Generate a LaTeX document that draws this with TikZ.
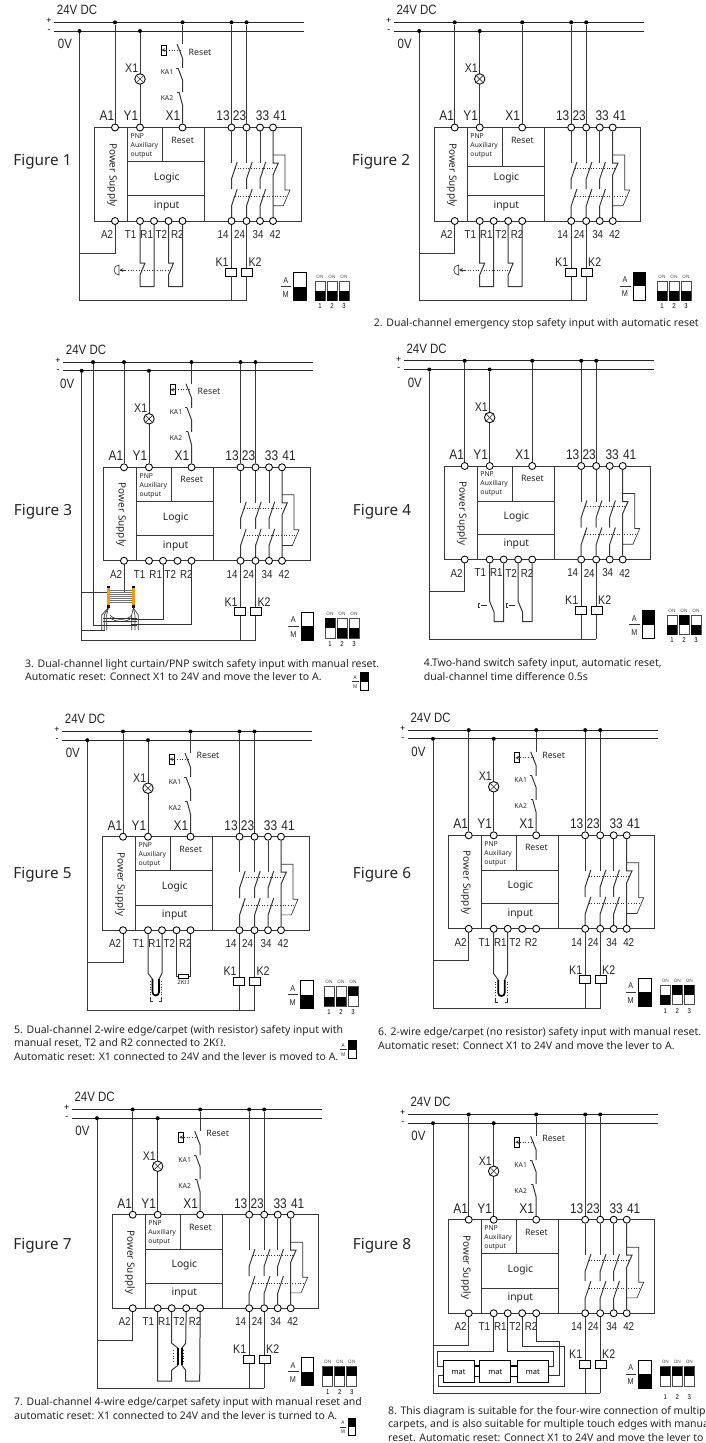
\documentclass[tikz,border=0pt]{standalone}
\usepackage{fontspec}
\usepackage{tikz}
\usetikzlibrary{arrows}
\setmainfont{Noto Sans}
\newfontfamily\dinfont[FakeStretch=0.85]{Liberation Sans}
\tikzset{
  wire/.style={line width=1pt,color=black!78},
  fine/.style={line width=0.65pt,color=black!80},
  bus/.style={line width=1pt,color=black!85},
  dots/.style={line width=0.65pt,dotted,color=black!80},
  term/.style={circle,draw=black,line width=0.85pt,fill=white,minimum size=7pt,inner sep=0pt},
  jdot/.style={circle,fill=black,minimum size=4pt,inner sep=0pt},
  pin/.style={font=\dinfont\fontsize{14}{14}\selectfont,inner sep=0pt,color=black!85},
  pinlow/.style={font=\dinfont\fontsize{11.5}{12}\selectfont,inner sep=0pt,color=black!85},
  tag/.style={font=\dinfont\fontsize{12.5}{13}\selectfont,inner sep=0pt,color=black!85},
  inner/.style={font=\fontsize{10.3}{11}\selectfont,inner sep=0pt,color=black!85},
  tiny/.style={font=\fontsize{6.8}{7}\selectfont,inner sep=0pt,color=black!85},
  figlabel/.style={font=\fontsize{15.3}{16}\selectfont,inner sep=0pt,color=black!85},
  capt/.style={font=\fontsize{10.5}{13.8}\selectfont,align=left,anchor=west,inner sep=0pt,color=black!85},
  coil/.style={draw,line width=0.85pt,fill=white,minimum width=11pt,minimum height=8pt,inner sep=0pt},
  lampnode/.style={circle,draw,line width=0.85pt,minimum size=10.5pt,inner sep=0pt},
  mat/.style={draw,line width=0.85pt,minimum width=31pt,minimum height=22pt,inner sep=0pt,font=\fontsize{7.5}{8}\selectfont},
}
% module, rails, load side: #1 bottom of PNP cell, #2 x of the 0V wire
\newcommand{\relaycore}[2]{
  \coordinate (pL) at (54,22.3);
  \coordinate (pR) at (304,22.3);
  \coordinate (nL) at (54,31);
  \coordinate (nR) at (304,31);
  \draw[bus] (pL) -- (pR);
  \draw[bus] (nL) -- (nR);
  \node[font=\bfseries\fontsize{9}{9}\selectfont,inner sep=0pt] (plus) at (49,21) {+};
  \node[font=\bfseries\fontsize{9}{9}\selectfont,inner sep=0pt] (minus) at (49,31) {-};
  \node[tag,font=\dinfont\fontsize{13.5}{14}\selectfont] (dc) at (77,10) {24V DC};
  \node[tag,font=\dinfont\fontsize{13.5}{14}\selectfont] (zv) at (#2-14.5,44) {0V};
  \draw[wire] (94.5,127.5) rectangle (301,221);
  \draw[wire] (127.5,127.5) -- (127.5,221);
  \draw[wire] (204.5,127.5) -- (204.5,221);
  \draw[wire] (162.5,127.5) -- (162.5,#1);
  \draw[wire] (127.5,#1) -- (204.5,#1);
  \draw[wire] (127.5,195.8) -- (204.5,195.8);
  \node[inner,font=\fontsize{10}{11}\selectfont,rotate=-90] (ps) at (112.3,175) {Power Supply};
  \node[tiny,anchor=west] (pnpa) at (130.5,136) {PNP};
  \node[tiny,anchor=west] (pnpb) at (130.5,145.7) {Auxiliary};
  \node[tiny,anchor=west] (pnpc) at (130.5,155) {output};
  \node[inner,font=\fontsize{8.8}{9}\selectfont] (rs) at (182.7,140) {Reset};
  \node[inner] (lg) at (166.7,178) {Logic};
  \node[inner] (ip) at (166.7,205.7) {input};
  \foreach \nm/\px in {A1/115,Y1/140,X1/182.5,t13/231.5,t23/246.5,t33/260,t41/273}
    \node[term] (\nm) at (\px,127.5) {};
  \foreach \nm/\px in {A2/115,T1/140,R1/154,T2/168.5,R2/182.5,t14/231.5,t24/246.5,t34/260,t42/273}
    \node[term] (\nm) at (\px,221) {};
  \foreach \nm/\px in {A1/107,Y1/131,X1/173,13/223,23/239.5,33/262.5,41/280}
    \node[pin] (lb\nm) at (\px,116) {\nm};
  \foreach \nm/\px in {A2/107,T1/130.7,R1/146.7,T2/161.3,R2/177.3,14/223,24/239.5,34/258,42/275}
    \node[pinlow] (lb\nm) at (\px,234.5) {\nm};
  \node[jdot] (jA1) at (115,22.3) {};
  \node[jdot] (jX1) at (182.5,22.3) {};
  \node[jdot] (j13) at (231.5,22.3) {};
  \node[jdot] (j23) at (246.5,22.3) {};
  \node[jdot] (jY1) at (140,31) {};
  \node[jdot] (j0V) at (#2,31) {};
  \draw[wire] (jA1) -- (A1);
  \draw[wire] (jY1) -- (Y1);
  \node[lampnode,fill=white] (lamp) at (140,79) {};
  \draw[fine] (lamp.45) -- (lamp.225);
  \draw[fine] (lamp.135) -- (lamp.315);
  \node[tag] (lbLamp) at (131.7,68.5) {X1};
  \draw[wire] (j13) -- (t13);
  \draw[wire] (j23) -- (t23);
  % contacts
  \foreach \cn/\bn/\cx in {t13/t14/231.5,t23/t24/246.5,t33/t34/260}{
    \coordinate (ca) at (\cx,163);
    \coordinate (cb) at (\cx,179);
    \coordinate (cc) at (\cx+5.7,162);
    \coordinate (cd) at (\cx,189);
    \coordinate (ce) at (\cx,206);
    \coordinate (cf) at (\cx+5.7,189);
    \draw[wire] (\cn) -- (ca);
    \draw[wire] (cc) -- (cb) -- (cd);
    \draw[wire] (cf) -- (ce) -- (\bn);
  }
  \coordinate (ng) at (273,163);
  \coordinate (nh) at (278.3,163);
  \coordinate (ni) at (273,175);
  \draw[wire] (t41) -- (ng) -- (nh) -- (ni) -- (t42);
  \coordinate (fa) at (273,155);
  \coordinate (fb) at (285,155);
  \coordinate (fc) at (285,190);
  \coordinate (fd) at (290,190);
  \coordinate (fe) at (283.3,205.7);
  \coordinate (ff) at (273,205.7);
  \draw[fine] (fa) -- (fb) -- (fc) -- (fd) -- (fe) -- (ff);
  \coordinate (da) at (235,168.3);
  \coordinate (db) at (276,168.3);
  \coordinate (dc1) at (235,196);
  \coordinate (dd) at (287,196);
  \draw[dots] (da) -- (db);
  \draw[dots] (dc1) -- (dd);
  % load side
  \node[coil] (K1) at (231,272) {};
  \node[coil] (K2) at (246.9,272) {};
  \node[tag] (lbK1) at (222,262) {K1};
  \node[tag] (lbK2) at (255,262) {K2};
  \coordinate (bA) at (231.5,300.8);
  \coordinate (bB) at (246.5,300.8);
  \coordinate (aT) at (#2,253);
  \draw[wire] (t14) -- (t14 |- K1.north);
  \draw[wire] (t24) -- (t24 |- K2.north);
  \draw[wire] (t14 |- K1.south) -- (bA);
  \draw[wire] (t24 |- K2.south) -- (bB);
  \draw[wire] (j0V) |- (bB);
  \draw[wire] (A2) |- (aT);
}
% reset button chain: #1 y of its label
\newcommand{\resetchain}[1]{
  \coordinate (ra) at (182.5,44);
  \coordinate (rb) at (177,44);
  \coordinate (rc) at (182.5,58);
  \coordinate (rd) at (182.5,68);
  \coordinate (re) at (176,68);
  \coordinate (rf) at (178,68);
  \coordinate (rg) at (182.5,80);
  \coordinate (rh) at (182.5,92);
  \coordinate (ri) at (177,92);
  \coordinate (rj) at (179,92);
  \coordinate (rk) at (182.5,105);
  \draw[wire] (jX1) -- (ra);
  \draw[wire] (rb) -- (rc) -- (rd);
  \draw[fine] (re) -- (rf);
  \draw[wire] (rf) -- (rg) -- (rh);
  \draw[fine] (ri) -- (rj);
  \draw[wire] (rj) -- (rk) -- (X1);
  \node[draw,line width=0.7pt,minimum width=5pt,minimum height=10pt,inner sep=0pt] (rbtn) at (163.5,50) {};
  \coordinate (rp) at (180,50);
  \coordinate (rq) at (161.5,50);
  \draw[dots] (rbtn.east) -- (rp);
  \draw[fine,->,>=stealth] (rbtn.east) -- (rq);
  \node[inner,font=\fontsize{8.8}{9}\selectfont] (rlb) at (200,#1) {Reset};
  \node[tiny] (lbKa) at (167,72.5) {KA1};
  \node[tiny] (lbKb) at (167,98.5) {KA2};
}
\newcommand{\plainreset}{
  \draw[wire] (jX1) -- (X1);
}
\newcommand{\estopinput}{
  \foreach \aa/\bb/\ax in {T1/R1/140,T2/R2/168.5}{
    \coordinate (ea) at (\ax,263);
    \coordinate (eb) at (\ax+5,263);
    \coordinate (ec) at (\ax,275);
    \coordinate (ed) at (\ax,286.7);
    \coordinate (ee) at (\ax+14,286.7);
    \draw[wire] (\aa) -- (ea) -- (eb) -- (ec) -- (ed) -- (ee) -- (\bb);
  }
  \coordinate (ef) at (120,270);
  \coordinate (eg) at (171,270);
  \draw[dots] (ef) -- (eg);
  \draw[fine] (119,275) arc (90:270:5) -- cycle;
  \draw[fine,->,>=stealth] (125,270) -- (119.5,270);
}
\newcommand{\twohand}{
  \foreach \aa/\bb/\ax in {T1/R1/140,T2/R2/168.5}{
    \coordinate (ha) at (\ax,263);
    \coordinate (hb) at (\ax+4.5,274);
    \coordinate (hc) at (\ax+4.5,283);
    \coordinate (hd) at (\ax+14,283);
    \coordinate (he) at (\ax-11.5,264.5);
    \coordinate (hf) at (\ax-10,264.5);
    \coordinate (hg) at (\ax-10,269);
    \coordinate (hh) at (\ax-11.5,269);
    \coordinate (hi) at (\ax-9,266.8);
    \coordinate (hj) at (\ax-3,266.8);
    \draw[wire] (\aa) -- (ha) -- (hb) -- (hc) -- (hd) -- (\bb);
    \draw[fine] (he) -- (hf);
    \draw[fine] (hg) -- (hh) -- (he);
    \draw[fine] (hi) -- (hj);
  }
}
% 2-wire edge, #1 vertical offset
\newcommand{\edgesensor}[1]{
  \begin{scope}[yshift=-#1pt]
  \coordinate (sa) at (140,264);
  \coordinate (sb) at (144.5,270);
  \coordinate (sc) at (154,264);
  \coordinate (sd) at (151,270);
  \draw[wire] (T1) -- (sa) -- (sb);
  \draw[wire] (R1) -- (sc) -- (sd);
  \draw[line width=1.7pt] (144.5,270) -- (144.5,283) arc (180:0:3.25) -- (151,270);
  \draw[dots] (142,272) -- (142,288);
  \draw[dots] (153.7,272) -- (153.7,288);
  \draw[fine] (142,289) -- (142,292.5) -- (144.5,292.5);
  \draw[fine] (151,292.5) -- (153.7,292.5) -- (153.7,289);
  \end{scope}
}
\newcommand{\leverbox}[3]{
  \begin{scope}[shift={(#1,#2)}]
  \draw[line width=0.85pt] (0,0) rectangle (12.3,28);
  \fill (0,#3) rectangle (12.3,#3+14);
  \node[tiny,font=\dinfont\fontsize{8.5}{9}\selectfont] (lvA) at (-8,7.5) {A};
  \node[tiny,font=\dinfont\fontsize{8.5}{9}\selectfont] (lvM) at (-8,22) {M};
  \coordinate (lvL) at (-13,14);
  \coordinate (lvR) at (-2.5,14);
  \draw[fine] (lvL) -- (lvR);
  \end{scope}
}
% #3: cell/offset of the black half, #4: y of the numbers
\newcommand{\dipsw}[4]{
  \begin{scope}[shift={(#1,#2)}]
  \foreach \i/\ofs in {#3}{
    \draw[line width=0.9pt,color=black!70] ({12*(\i-1)},0) rectangle ({12*(\i-1)+10},19.7);
    \fill ({12*(\i-1)},\ofs) rectangle ({12*(\i-1)+10},\ofs+9.7);
    \node[font=\fontsize{4.6}{5}\selectfont,inner sep=0pt,color=black!70] (on\i) at ({12*(\i-1)+5},-4.5) {ON};
    \node[font=\dinfont\fontsize{7}{7}\selectfont,inner sep=0pt] (nr\i) at ({12*(\i-1)+5},#4) {\i};
  }
  \end{scope}
}
\begin{document}
\begin{tikzpicture}[x=1pt,y=-1pt]
  \clip (0,0) rectangle (705,1443);
  % Figure 1
  \begin{scope}[shift={(0,0)},name prefix=fa-]
    \relaycore{161.5}{79.5}
    \resetchain{52}
    \estopinput
    \leverbox{293.7}{272.7}{14}
    \dipsw{315}{281}{1/10,2/10,3/10}{25.5}
  \end{scope}
  \node[figlabel] (figa) at (42.5,162) {Figure 1};
  % Figure 2
  \begin{scope}[shift={(339.7,0)},name prefix=fb-]
    \relaycore{166}{79.5}
    \plainreset
    \estopinput
    \leverbox{293.3}{272}{0}
    \dipsw{317.3}{281}{1/10,2/10,3/10}{25.5}
  \end{scope}
  \node[figlabel] (figb) at (381,162) {Figure 2};
  \node[capt] (capb) at (373.7,323.3) {2. Dual-channel emergency stop safety input with automatic reset};
  % Figure 3
  \begin{scope}[shift={(9,339.8)},name prefix=fc-]
    \relaycore{161.8}{72.7}
    \resetchain{51.2}
    \node[jdot] (jPv) at (84,22.3) {};
    \coordinate (lcP) at (96,285.2);
    \coordinate (lcZ) at (96,290.5);
    \coordinate (lcZs) at (72.7,290.5);
    \coordinate (lcA) at (122,279.8);
    \coordinate (lcB) at (122,284.5);
    \draw[fine] (jPv) |- (lcP);
    \draw[fine] (lcZs) -- (lcZ);
    \draw[fine] (R1) |- (lcA);
    \draw[fine] (R2) |- (lcB);
    % light curtain
    \foreach \ly in {250,252,254,256,258,260,262}
      \draw[line width=0.5pt,color=black!55] (101,\ly) -- (122.7,\ly);
    \foreach \lx/\ln in {97.7/lcL,122.7/lcR}{
      \fill[black] (\lx,246.5) rectangle (\lx+3.3,248.5);
      \fill[black] (\lx,265.2) rectangle (\lx+3.3,268);
      \fill[orange!80!yellow] (\lx,248.5) rectangle (\lx+3.3,265.2);
      \coordinate (\ln) at (\lx+1.6,268);
    }
    \foreach \fx/\gx in {92.7/lcL,95.3/lcL,97.7/lcL,122.7/lcR,126/lcR,129.3/lcR}{
      \draw[fine] (\gx) -- (\fx,275.2) -- (\fx,290.5);
    }
    \foreach \fy in {278.5,281.9,285.2}
      \draw[fine] (94,\fy) -- (128,\fy);
    \draw[fine] (101,275.2) .. controls (105,281) and (119,281) .. (122.7,275.2);
    \draw[fine] (101,277.5) .. controls (105,283) and (119,283) .. (122.7,277.5);
    \leverbox{292.3}{272.5}{14}
    \dipsw{316}{278.5}{1/0,2/10,3/10}{25.5}
  \end{scope}
  \node[figlabel] (figc) at (43,511.7) {Figure 3};
  \node[capt] (capc) at (25,670) {3. Dual-channel light curtain/PNP switch safety input with manual reset.\\Automatic reset: Connect X1 to 24V and move the lever to A.};
  \begin{scope}[shift={(360.3,672.7)},scale=0.63,transform shape,name prefix=fcs-]
    \leverbox{0}{0}{0}
  \end{scope}
  % Figure 4
  \begin{scope}[shift={(349.7,338.5)},name prefix=fd-]
    \relaycore{163}{79.6}
    \plainreset
    \twohand
    \leverbox{292.6}{272.2}{0}
    \dipsw{317.3}{276.5}{1/10,2/0,3/10}{25.5}
  \end{scope}
  \node[figlabel] (figd) at (382,511.7) {Figure 4};
  \node[capt] (capd) at (423.7,669.7) {4.Two-hand switch safety input, automatic reset,\\dual-channel time difference 0.5s};
  % Figure 5
  \begin{scope}[shift={(8,709.2)},name prefix=fe-]
    \relaycore{161.5}{79.3}
    \resetchain{46}
    \edgesensor{0}
    \node[draw,line width=0.7pt,fill=white,minimum width=10.6pt,minimum height=4pt,inner sep=0pt] (rz) at (175.5,267) {};
    \coordinate (rzL) at (168.5,267);
    \coordinate (rzR) at (182.5,267);
    \draw[wire] (T2) -- (rzL) -- (rz);
    \draw[wire] (R2) -- (rzR) -- (rz);
    \node[tiny,font=\fontsize{6}{7}\selectfont] (rzT) at (175.5,273.5) {2K$\Omega$};
    \leverbox{292.7}{271.5}{14}
    \dipsw{316}{277.5}{1/10,2/10,3/0}{25.5}
  \end{scope}
  \node[figlabel] (fige) at (42.5,874.3) {Figure 5};
  \node[capt] (cape) at (14,1043) {5. Dual-channel 2-wire edge/carpet (with resistor) safety input with\\manual reset, T2 and R2 connected to 2K$\Omega$.\\Automatic reset: X1 connected to 24V and the lever is moved to A.};
  \begin{scope}[shift={(348.3,1040.7)},scale=0.63,transform shape,name prefix=fes-]
    \leverbox{0}{0}{0}
  \end{scope}
  % Figure 6
  \begin{scope}[shift={(353.7,707.8)},name prefix=ff-]
    \relaycore{162.2}{79.3}
    \resetchain{47.2}
    \edgesensor{2}
    \leverbox{285}{270.5}{14}
    \dipsw{306.6}{277.2}{1/10,2/0,3/0}{26.5}
  \end{scope}
  \node[figlabel] (figf) at (382,874.3) {Figure 6};
  \node[capt] (capf) at (378,1038.7) {6. 2-wire edge/carpet (no resistor) safety input with manual reset.\\Automatic reset: Connect X1 to 24V and move the lever to A.};
  % Figure 7
  \begin{scope}[shift={(17.7,1087.2)},name prefix=fg-]
    \relaycore{161.8}{79.3}
    \resetchain{46}
    \coordinate (qa) at (154,256);
    \coordinate (qb) at (160.3,261);
    \coordinate (qc) at (168,256);
    \coordinate (qd) at (164,261);
    \coordinate (qe) at (160.3,278);
    \coordinate (qf) at (154,283);
    \coordinate (qg) at (154,294);
    \coordinate (qh) at (140,294);
    \coordinate (qi) at (164,278);
    \coordinate (qj) at (168,283);
    \coordinate (qk) at (168,294);
    \coordinate (ql) at (182,294);
    \draw[wire] (R1) -- (qa) -- (qb);
    \draw[wire] (T2) -- (qc) -- (qd);
    \draw[wire] (qe) -- (qf) -- (qg) -- (qh) -- (T1);
    \draw[wire] (qi) -- (qj) -- (qk) -- (ql) -- (R2);
    \draw[line width=1.8pt] (qb) -- (qe);
    \draw[line width=1.8pt] (qd) -- (qi);
    \draw[dots] (156,263) -- (156,276);
    \draw[dots] (166,263) -- (166,276);
    \leverbox{283.3}{270.5}{14}
    \dipsw{305}{279.5}{1/0,2/0,3/0}{25.5}
  \end{scope}
  \node[figlabel] (figg) at (42.5,1245.7) {Figure 7};
  \node[capt] (capg) at (14,1408.5) {7. Dual-channel 4-wire edge/carpet safety input with manual reset and\\automatic reset: X1 connected to 24V and the lever is turned to A.};
  \begin{scope}[shift={(348,1418)},scale=0.63,transform shape,name prefix=fgs-]
    \leverbox{0}{0}{0}
  \end{scope}
  % Figure 8
  \begin{scope}[shift={(353.7,1092.2)},name prefix=fh-]
    \relaycore{161}{79.3}
    \resetchain{46}
    \node[mat] (mata) at (104.8,279.5) {mat};
    \node[mat] (matb) at (141.6,279.5) {mat};
    \node[mat] (matc) at (179.2,279.5) {mat};
    \draw[line width=1.3pt] (mata.east |- 0,273.8) -- (matb.west |- 0,273.8);
    \draw[line width=1.3pt] (mata.east |- 0,284.5) -- (matb.west |- 0,284.5);
    \draw[line width=1.3pt] (matb.east |- 0,273.8) -- (matc.west |- 0,273.8);
    \draw[line width=1.3pt] (matb.east |- 0,284.5) -- (matc.west |- 0,284.5);
    \coordinate (ma) at (83.3,259.5);
    \coordinate (mb) at (83.3,274.5);
    \coordinate (mc) at (200,259.5);
    \coordinate (md) at (200,274.5);
    \coordinate (me) at (211,254.5);
    \coordinate (mf) at (211,293.8);
    \coordinate (mg) at (84.3,293.8);
    \coordinate (mh) at (84.3,282.8);
    \coordinate (mi) at (205.6,249.5);
    \coordinate (mj) at (205.6,282.8);
    \draw[fine] (T1) |- (ma) -- (mb) -- (mata.west |- mb);
    \draw[fine] (R1) |- (mc) -- (md) -- (matc.east |- md);
    \draw[fine] (T2) |- (me) -- (mf) -- (mg) -- (mh) -- (mata.west |- mh);
    \draw[fine] (R2) |- (mi) -- (mj) -- (matc.east |- mj);
    \leverbox{285}{267.8}{14}
    \dipsw{306.6}{274.5}{1/0,2/0,3/0}{30}
  \end{scope}
  \node[figlabel] (figh) at (382,1245.7) {Figure 8};
  \node[capt] (caph) at (388,1424) {8. This diagram is suitable for the four-wire connection of multiple\\carpets, and is also suitable for multiple touch edges with manual\\reset. Automatic reset: Connect X1 to 24V and move the lever to A.};
\end{tikzpicture}
\end{document}
